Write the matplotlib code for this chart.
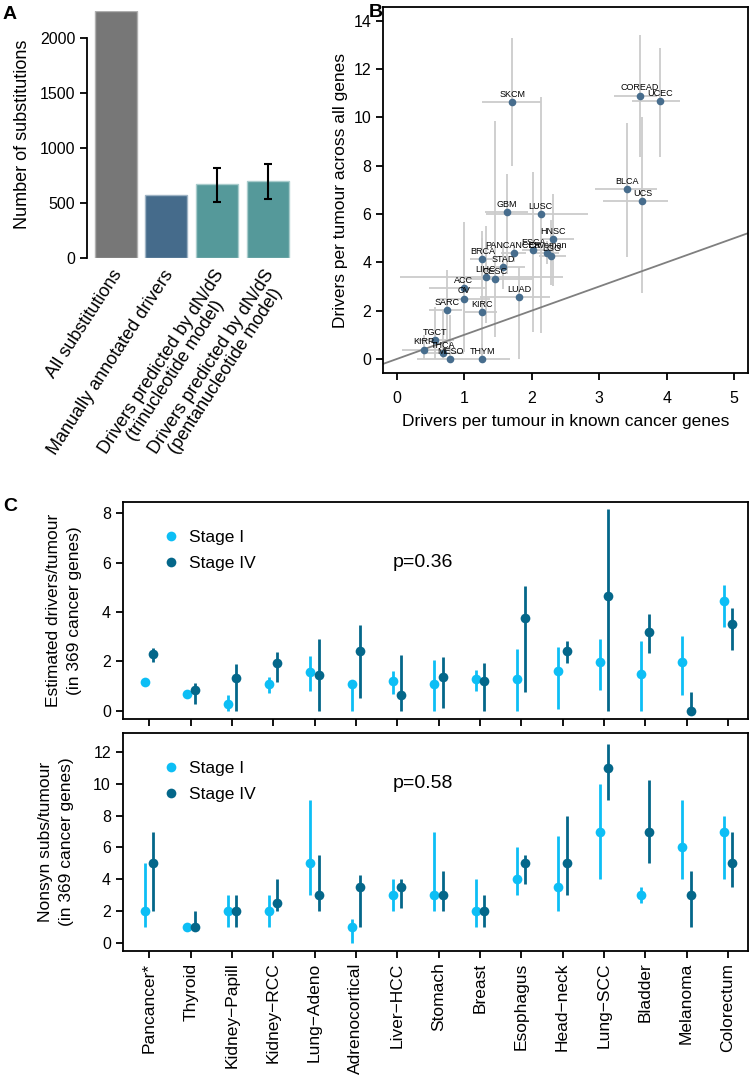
import numpy as np
import matplotlib.pyplot as plt

plt.rcParams['font.family'] = ['Liberation Sans', 'DejaVu Sans']

# ---- panel A: substitutions
bar_names = ['All substitutions', 'Manually annotated drivers',
             'Drivers predicted by dN/dS\n(trinucleotide model)',
             'Drivers predicted by dN/dS\n(pentanucleotide model)']
bar_values = [2245, 576, 670, 700]
bar_err_lo = [np.nan, np.nan, 509, 536]
bar_err_hi = [np.nan, np.nan, 821, 857]

# ---- panel B: drivers per tumour type
types = ['SKCM', 'COREAD', 'UCEC', 'BLCA', 'UCS', 'GBM', 'LUSC', 'HNSC', 'PANCANCER',
         'ESCA', 'Caveman', 'LGG', 'BRCA', 'STAD', 'LIHC', 'CESC', 'ACC', 'OV', 'LUAD',
         'SARC', 'KIRC', 'TGCT', 'KIRP', 'THCA', 'MESO', 'THYM']
known = [1.71, 3.60, 3.90, 3.41, 3.64, 1.63, 2.13, 2.32, 1.73,
         2.02, 2.23, 2.29, 1.27, 1.57, 1.32, 1.45, 0.99, 0.99, 1.81,
         0.74, 1.27, 0.57, 0.40, 0.68, 0.79, 1.27]
known_lo = [1.26, 3.22, 3.49, 2.94, 3.05, 1.31, 1.32, 2.12, 1.55,
            1.85, 2.05, 2.10, 1.08, 1.46, 0.05, 1.00, 0.48, 0.59, 1.24,
            0.47, 1.00, 0.30, 0.07, 0.40, 0.30, 0.99]
known_hi = [2.13, 3.85, 4.20, 3.85, 4.02, 1.95, 2.84, 2.62, 1.92,
            2.30, 2.40, 2.50, 1.43, 1.90, 2.47, 2.00, 1.33, 1.38, 2.27,
            0.96, 1.48, 0.85, 0.84, 1.00, 0.99, 1.68]
allg = [10.65, 10.90, 10.66, 7.05, 6.52, 6.09, 6.01, 4.95, 4.40,
        4.50, 4.40, 4.27, 4.15, 3.82, 3.41, 3.31, 2.92, 2.50, 2.57,
        2.04, 1.96, 0.79, 0.39, 0.24, 0.00, 0.00]
allg_lo = [7.99, 8.37, 8.37, 4.23, 2.74, 3.50, 1.06, 3.02, 4.00,
           1.13, 3.95, 3.06, 3.40, 2.90, 1.50, 0.90, 0.30, 1.20, 0.00,
           0.80, 0.00, 0.00, 0.00, 0.00, 0.00, 0.00]
allg_hi = [13.27, 13.40, 12.85, 9.78, 10.03, 7.64, 10.85, 6.81, 4.85,
           7.75, 4.90, 5.75, 5.30, 4.80, 5.50, 9.86, 5.68, 4.50, 3.82,
           3.70, 5.00, 2.17, 1.00, 2.00, 1.80, 0.60]

# ---- panel C: stage I vs stage IV
categories = ['Pancancer*', 'Thyroid', 'Kidney\u2212Papill', 'Kidney\u2212RCC', 'Lung\u2212Adeno',
              'Adrenocortical', 'Liver\u2212HCC', 'Stomach', 'Breast', 'Esophagus',
              'Head\u2212neck', 'Lung\u2212SCC', 'Bladder', 'Melanoma', 'Colorectum']
drv_I = [1.18, 0.66, 0.27, 1.08, 1.58, 1.10, 1.22, 1.07, 1.28, 1.27, 1.61, 1.96, 1.47, 1.97, 4.43]
drv_I_lo = [1.10, 0.58, 0.00, 0.70, 0.80, 0.00, 0.68, 0.00, 0.78, 0.00, 0.07, 0.84, 0.00, 0.62, 3.40]
drv_I_hi = [1.26, 0.75, 0.64, 1.35, 2.23, 1.15, 1.61, 2.04, 1.64, 2.51, 2.57, 2.89, 2.83, 3.03, 5.08]
drv_IV = [2.28, 0.84, 1.34, 1.92, 1.45, 2.43, 0.65, 1.37, 1.20, 3.76, 2.42, 4.64, 3.20, 0.00, 3.50]
drv_IV_lo = [1.99, 0.26, 0.00, 1.15, 0.00, 0.50, 0.00, 0.12, 0.00, 0.76, 1.93, 0.00, 2.35, 0.00, 2.47]
drv_IV_hi = [2.53, 1.14, 1.89, 2.37, 2.91, 3.47, 2.26, 2.16, 1.93, 5.05, 2.84, 8.18, 3.92, 0.76, 4.16]

ns_I = [2, 1, 2, 2, 5, 1, 3, 3, 2, 4, 3.5, 7, 3, 6, 7]
ns_I_lo = [1, 1, 1, 1, 3, 0, 2, 2, 1, 3, 2, 4, 2.5, 4, 4]
ns_I_hi = [5, 1, 3, 3, 9, 1.5, 4, 7, 4, 6, 6.75, 10, 3.5, 9, 8]
ns_IV = [5, 1, 2, 2.5, 3, 3.5, 3.5, 3, 2, 5, 5, 11, 7, 3, 5]
ns_IV_lo = [2, 1, 1, 2, 2, 1, 2.2, 2, 1, 3.7, 3, 9, 5, 1, 3.5]
ns_IV_hi = [7, 2, 3, 4, 5.5, 4.25, 4, 4.5, 3, 5.5, 8, 12.5, 10.25, 4.5, 7]

W, H = 749, 1082
fig = plt.figure(figsize=(W / 100, H / 100), dpi=100)

def box(l, t, r, b):
    return [l / W, 1 - b / H, (r - l) / W, (b - t) / H]

# ================= A
axA = fig.add_axes(box(87, 10.5, 300, 258))
xa = np.arange(len(bar_values))
axA.bar(xa, bar_values, width=0.83,
        color=['#777777', '#456b8b', '#55999a', '#55999a'],
        edgecolor=['#b0b0b0', '#9fb4c5', '#a9cccc', '#a9cccc'], linewidth=1)
v = np.array(bar_values, float)
axA.errorbar(xa, v, yerr=[v - np.array(bar_err_lo), np.array(bar_err_hi) - v],
             fmt='none', ecolor='black', elinewidth=1.5, capsize=3, capthick=1.5)
axA.set_xlim(-0.566, 3.635)
axA.set_ylim(0, 2250)
for s in ['top', 'right', 'bottom']:
    axA.spines[s].set_visible(False)
axA.spines['left'].set_bounds(0, 2000)
axA.spines['left'].set_linewidth(1.3)
axA.set_yticks([0, 500, 1000, 1500, 2000])
axA.set_xticks([])
axA.tick_params(axis='y', labelsize=11.5, length=5, width=1.3)
axA.set_ylabel('Number of substitutions', fontsize=13, labelpad=6)
for i, name in enumerate(bar_names):
    axA.text(i - 0.08, -80, name, rotation=57, ha='right', va='top',
             rotation_mode='anchor', multialignment='center', fontsize=13,
             linespacing=0.95)

# ================= B
axB = fig.add_axes(box(383.3, 7.3, 747.7, 373))
kn = np.array(known); ag = np.array(allg)
axB.errorbar(kn, ag, xerr=[kn - np.array(known_lo), np.array(known_hi) - kn],
             yerr=[ag - np.array(allg_lo), np.array(allg_hi) - ag],
             fmt='none', ecolor='#cccccc', elinewidth=1.3, capsize=0, zorder=1)
axB.axline((0, 0), slope=1, color='#7f7f7f', lw=1.3, zorder=2)
axB.plot(kn, ag, 'o', color='#476d8d', ms=5.5, mec='none', zorder=3)
for name, xk, ya in zip(types, known, allg):
    axB.annotate(name, (xk, ya), xytext=(0, 2.2), textcoords='offset points',
                 ha='center', va='bottom', fontsize=6.5, zorder=4)
axB.set_xlim(-0.2, 5.2)
axB.set_ylim(-0.58, 14.55)
axB.set_xticks(range(6))
axB.set_yticks(range(0, 15, 2))
axB.tick_params(labelsize=11.5, length=5, width=1.3)
axB.tick_params(axis='x', pad=8)
for s in axB.spines.values():
    s.set_linewidth(1.3)
axB.set_xlabel('Drivers per tumour in known cancer genes', fontsize=12.5, labelpad=6)
axB.set_ylabel('Drivers per tumour across all genes', fontsize=12.5, labelpad=4)

# ================= C
light, dark = '#0dbef5', '#04678a'
pos = np.arange(1, len(categories) + 1)
axC1 = fig.add_axes(box(122.7, 502.3, 747.7, 719.3))
axC2 = fig.add_axes(box(122.7, 733.3, 747.7, 950.7))
panels = [(axC1, drv_I, drv_I_lo, drv_I_hi, drv_IV, drv_IV_lo, drv_IV_hi,
           'Estimated drivers/tumour\n(in 369 cancer genes)', (-0.35, 8.45), range(0, 9, 2),
           'p=0.36', 6.0),
          (axC2, ns_I, ns_I_lo, ns_I_hi, ns_IV, ns_IV_lo, ns_IV_hi,
           'Nonsyn subs/tumour\n(in 369 cancer genes)', (-0.5, 13.19), range(0, 13, 2),
           'p=0.58', 10.04)]
for ax, a, alo, ahi, b, blo, bhi, ylab, ylim, yt, ptxt, py in panels:
    ax.vlines(pos - 0.1, alo, ahi, color=light, lw=2)
    ax.vlines(pos + 0.1, blo, bhi, color=dark, lw=2)
    ax.plot(pos - 0.1, a, 'o', color=light, ms=7, mec='none', label='Stage I')
    ax.plot(pos + 0.1, b, 'o', color=dark, ms=7, mec='none', label='Stage IV')
    ax.set_xlim(0.356, 15.48)
    ax.set_ylim(*ylim)
    ax.set_yticks(list(yt))
    ax.set_xticks(pos)
    ax.tick_params(labelsize=11.5, length=5, width=1.3)
    for s in ax.spines.values():
        s.set_linewidth(1.3)
    ax.set_ylabel(ylab, fontsize=12.5, linespacing=1.5, labelpad=14)
    ax.text(6.9, py, ptxt, fontsize=14, va='center')
    ax.legend(loc='upper left', bbox_to_anchor=(0.05, 0.905), frameon=False,
              fontsize=12.5, handletextpad=0.4, labelspacing=0.62,
              handlelength=1.2, borderaxespad=0)
axC1.set_xticklabels([])
axC2.set_xticklabels(categories, rotation=90, fontsize=12.5)

fig.text(3 / W, 1 - 6 / H, 'A', fontsize=14, weight='bold', va='top')
fig.text(369 / W, 1 - 4 / H, 'B', fontsize=14, weight='bold', va='top')
fig.text(3 / W, 1 - 498 / H, 'C', fontsize=14, weight='bold', va='top')

fig.savefig('out.png', dpi=100)
